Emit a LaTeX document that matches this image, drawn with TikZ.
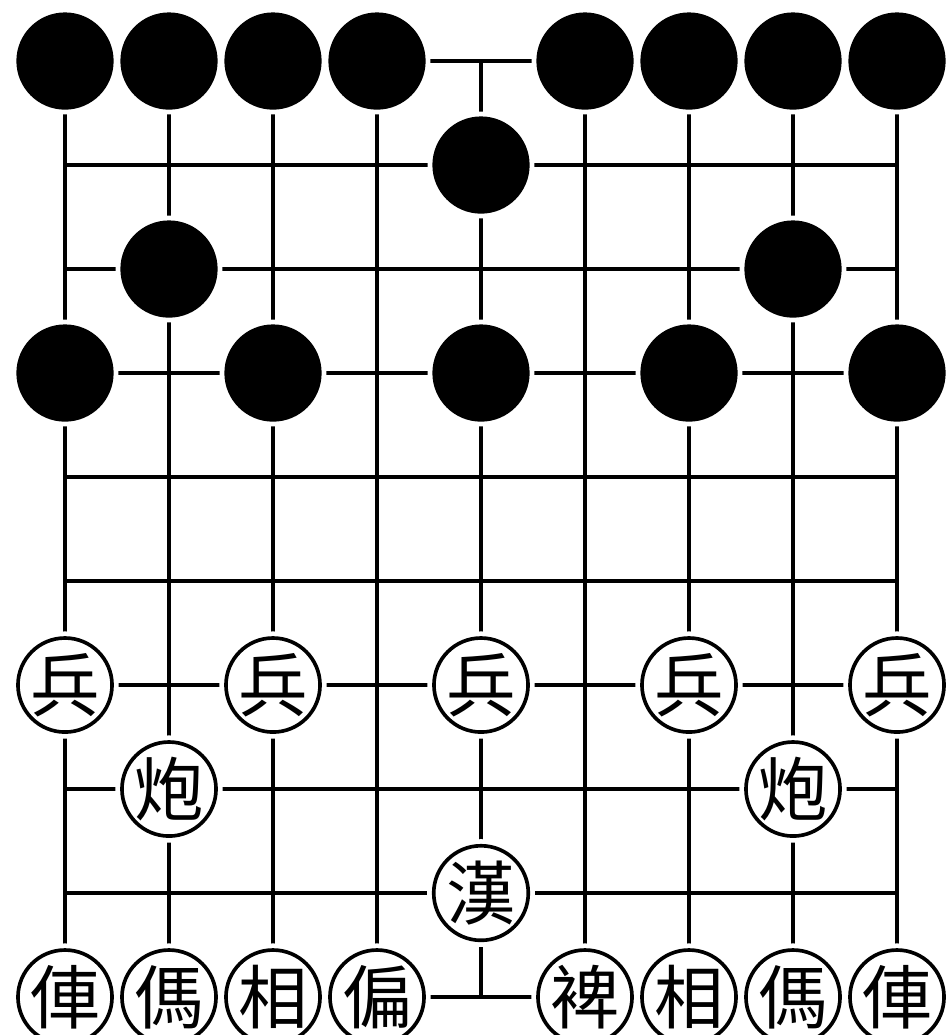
\documentclass[tikz,border=0pt]{standalone}
\usepackage{fontspec}
\newfontfamily\cjk{Noto Sans CJK TC}
\usetikzlibrary{positioning}
\tikzset{
  piece/.style={circle, minimum size=0.9cm, inner sep=0pt, line width=1pt,
    preaction={draw=white, line width=3.6pt}},
  blackpiece/.style={piece, draw=black, fill=black},
  redpiece/.style={piece, draw=black, fill=white, font=\cjk\fontsize{19}{19}\selectfont},
}
\newcommand{\boardbase}[2]{%
  \draw[line width=1pt] (0,0) grid (#1,-#2);
}
\newcommand{\blackpc}[2]{%
  \node[blackpiece] (b#1#2) at (#1,-#2) {};
}
\newcommand{\redpc}[3]{%
  \node[redpiece] (r#1#2) at (#1,-#2) {#3};
}
\begin{document}
\begin{tikzpicture}
  \fill[white] (-0.625,-9.365) rectangle (8.481,0.587);
  \useasboundingbox (-0.625,-9.365) rectangle (8.481,0.587);
  % board, 9 files by 10 ranks
  \boardbase{8}{9}
  % black side
  \foreach \c in {0,1,2,3,5,6,7,8} {\blackpc{\c}{0}}
  \blackpc{4}{1}
  \blackpc{1}{2}\blackpc{7}{2}
  \foreach \c in {0,2,4,6,8} {\blackpc{\c}{3}}
  % red side
  \foreach \c in {0,2,4,6,8} {\redpc{\c}{6}{兵}}
  \redpc{1}{7}{炮}\redpc{7}{7}{炮}
  \redpc{4}{8}{漢}
  \redpc{0}{9}{俥}\redpc{1}{9}{傌}\redpc{2}{9}{相}\redpc{3}{9}{偏}
  \redpc{5}{9}{裨}\redpc{6}{9}{相}\redpc{7}{9}{傌}\redpc{8}{9}{俥}
\end{tikzpicture}
\end{document}
